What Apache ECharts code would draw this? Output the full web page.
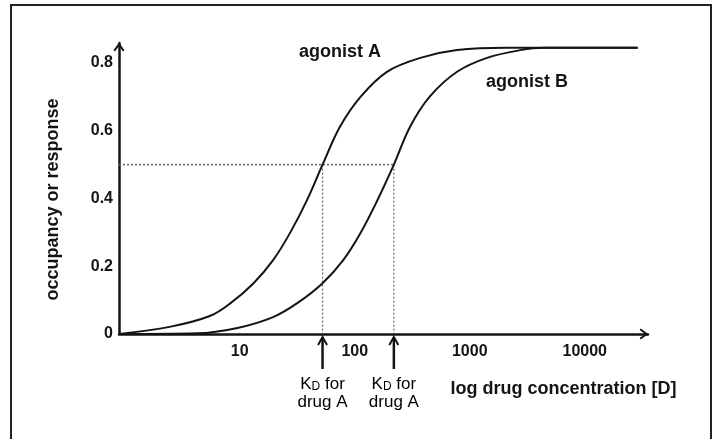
<!DOCTYPE html>
<html>
<head>
<meta charset="utf-8">
<script src="https://cdn.jsdelivr.net/npm/echarts@6/dist/echarts.min.js"></script>
<style>
  html, body { margin: 0; padding: 0; background: #fff; }
  #chart { width: 718px; height: 439px; }
</style>
</head>
<body>
<div id="chart"></div>
<script>
// ---- data (x = log10 drug concentration, y = occupancy / response) ----
const xTickLogs = [1, 2, 3, 4];              // 10, 100, 1000, 10000
const yTicks = [0, 0.2, 0.4, 0.6, 0.8];
const logDoseA = [-0.05, 0.39, 0.74, 0.92, 1.12, 1.29, 1.44, 1.59, 1.72, 1.87, 2.05, 2.28, 2.57, 2.89, 3.32, 3.79, 4.46];
const respA    = [0, 0.021, 0.053, 0.091, 0.150, 0.218, 0.300, 0.399, 0.5, 0.611, 0.700, 0.774, 0.815, 0.838, 0.845, 0.845, 0.845];
const logDoseB = [-0.05, 0.63, 0.98, 1.29, 1.50, 1.72, 1.90, 2.05, 2.20, 2.34, 2.48, 2.65, 2.89, 3.15, 3.44, 3.65, 4.46];
const respB    = [0, 0.002, 0.018, 0.050, 0.091, 0.150, 0.218, 0.298, 0.397, 0.5, 0.611, 0.700, 0.774, 0.815, 0.838, 0.845, 0.845];
const kdLogs = [1.72, 2.34];                 // K_D markers
const halfLevel = 0.5;
const xMin = -0.05, xMax = 4.55, yMax = 0.859;

const FONT = 'Liberation Sans, Arial, sans-serif';
const INK = '#141414';
const DOT = '#666';
const arrowHead = 'path://M5,0 L10,7 L8.6,8 L5,3 L1.4,8 L0,7 Z';

const pairs = (xs, ys) => xs.map((x, i) => [x, ys[i]]);

const chart = echarts.init(document.getElementById('chart'), null, { renderer: 'canvas' });
chart.setOption({
  animation: false,
  backgroundColor: '#fff',
  grid: { left: 119, right: 70, top: 43, bottom: 105, containLabel: false },
  xAxis: {
    type: 'value', min: xMin, max: xMax,
    name: 'log drug concentration [D]',
    nameLocation: 'middle', nameGap: 46,
    nameTextStyle: { fontFamily: FONT, fontSize: 18, fontWeight: 'bold', color: INK, padding: [0, 0, 0, 360] },
    axisLine: { onZero: false, lineStyle: { color: INK, width: 2.5 }, symbol: ['none', arrowHead], symbolSize: [11, 9], symbolOffset: [0, -4] },
    axisTick: { show: false },
    splitLine: { show: false },
    axisLabel: {
      customValues: xTickLogs,
      margin: 10,
      fontFamily: FONT, fontSize: 16, fontWeight: 'bold', color: INK,
      formatter: v => String(Math.round(Math.pow(10, v)))
    }
  },
  yAxis: {
    type: 'value', min: 0, max: yMax,
    name: 'occupancy or response',
    nameLocation: 'middle', nameGap: 57,
    nameTextStyle: { fontFamily: FONT, fontSize: 18, fontWeight: 'bold', color: INK, padding: [0, 22, 0, 0] },
    axisLine: { onZero: false, lineStyle: { color: INK, width: 2.5 }, symbol: ['none', arrowHead], symbolSize: [11, 9], symbolOffset: [0, -4] },
    axisTick: { show: false },
    splitLine: { show: false },
    axisLabel: {
      customValues: yTicks,
      margin: 6,
      fontFamily: FONT, fontSize: 16, fontWeight: 'bold', color: INK,
      formatter: v => (v === 0 ? '0' : v.toFixed(1))
    }
  },
  graphic: [
    { type: 'rect', silent: true, shape: { x: 11, y: 5, width: 700, height: 450 }, style: { fill: null, stroke: '#222', lineWidth: 2 } },
    { type: 'text', silent: true, x: 340, y: 52, style: { text: 'agonist A', font: 'bold 18px ' + FONT, fill: INK, align: 'center', verticalAlign: 'middle' } },
    { type: 'text', silent: true, x: 527, y: 82, style: { text: 'agonist B', font: 'bold 18px ' + FONT, fill: INK, align: 'center', verticalAlign: 'middle' } }
  ],
  series: [
    {
      name: 'half level', type: 'line', symbol: 'none', silent: true,
      data: [[xMin, halfLevel], [Math.max(...kdLogs), halfLevel]],
      lineStyle: { color: DOT, width: 1.5, type: [2, 2] }, z: 1
    },
    ...kdLogs.map(kd => ({
      name: 'kd line', type: 'line', symbol: 'none', silent: true,
      data: [[kd, halfLevel], [kd, 0]],
      lineStyle: { color: DOT, width: 1.2, type: [2, 2] }, z: 1
    })),
    {
      name: 'agonist A', type: 'line', symbol: 'none', smooth: 0.35,
      data: pairs(logDoseA, respA), lineStyle: { color: INK, width: 2 }, z: 3
    },
    {
      name: 'agonist B', type: 'line', symbol: 'none', smooth: 0.35,
      data: pairs(logDoseB, respB), lineStyle: { color: INK, width: 2 }, z: 3
    },
    {
      name: 'kd markers', type: 'custom', silent: true, clip: false,
      data: kdLogs.map(v => [v]),
      encode: { x: 0 },
      renderItem: (params, api) => {
        const p = api.coord([api.value(0), 0]);
        return {
          type: 'group',
          children: [
            { type: 'line', shape: { x1: p[0], y1: p[1] + 3, x2: p[0], y2: p[1] + 35 }, style: { stroke: INK, lineWidth: 2.5 } },
            { type: 'polyline', shape: { points: [[p[0] - 4.5, p[1] + 11], [p[0], p[1] + 3], [p[0] + 4.5, p[1] + 11]] }, style: { stroke: INK, lineWidth: 2, fill: null } },
            {
              type: 'text', x: p[0], y: p[1] + 41,
              style: {
                text: '{k|K}{d|D}{k| for}\n{k|drug A}',
                align: 'center', verticalAlign: 'top',
                rich: {
                  k: { fontFamily: FONT, fontSize: 17, color: INK, lineHeight: 18, verticalAlign: 'bottom' },
                  d: { fontFamily: FONT, fontSize: 12, color: INK, lineHeight: 18, verticalAlign: 'bottom', padding: [6, 0, 0, 0] }
                }
              }
            }
          ]
        };
      }
    }
  ]
});
</script>
</body>
</html>
